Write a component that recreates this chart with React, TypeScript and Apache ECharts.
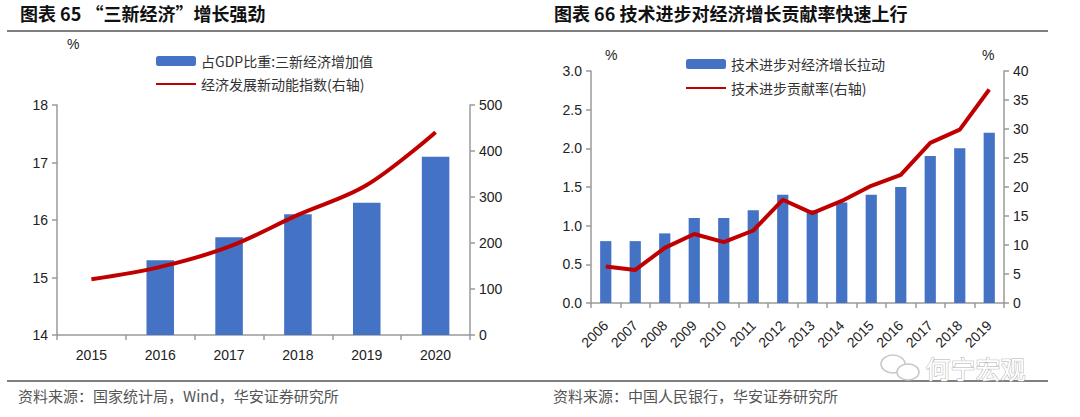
import React, { useEffect, useRef } from "react";
import * as echarts from "echarts";

const years1 = ["2015", "2016", "2017", "2018", "2019", "2020"];
const shareGDP = [null, 15.3, 15.7, 16.1, 16.3, 17.1];
const newEnergyIndex = [121, 148, 192, 261, 326, 441];

const years2 = ["2006", "2007", "2008", "2009", "2010", "2011", "2012", "2013", "2014", "2015", "2016", "2017", "2018", "2019"];
const techPull = [0.8, 0.8, 0.9, 1.1, 1.1, 1.2, 1.4, 1.2, 1.3, 1.4, 1.5, 1.9, 2.0, 2.2];
const techContribution = [6.3, 5.7, 9.5, 11.9, 10.5, 12.5, 17.8, 15.5, 17.6, 20.2, 22.1, 27.6, 29.9, 36.8];

const title1 = "图表 65 “三新经济”增长强劲";
const title2 = "图表 66 技术进步对经济增长贡献率快速上行";
const source1 = "资料来源：国家统计局，Wind，华安证券研究所";
const source2 = "资料来源：中国人民银行，华安证券研究所";
const legend1 = ["占GDP比重:三新经济增加值", "经济发展新动能指数(右轴)"];
const legend2 = ["技术进步对经济增长拉动", "技术进步贡献率(右轴)"];

const BLUE = "#4472C4";
const RED = "#C00000";
const AXIS = "#9a9a9a";
const NUM_FONT = "Liberation Sans, Arial, sans-serif";
const CJK_FONT = "Noto Sans CJK SC, sans-serif";

export default function App() {
  const ref = useRef<HTMLDivElement>(null);
  useEffect(() => {
    if (!ref.current) return;
    const chart = echarts.init(ref.current, undefined, { renderer: "svg" });
    const axisLine = { show: true, lineStyle: { color: AXIS, width: 1.5 } };
    const axisTick = { show: true, length: 5, lineStyle: { color: AXIS, width: 1.5 } };
    const numLabel = { color: "#222", fontSize: 14, fontFamily: NUM_FONT };
    const legendText = { fontSize: 14, color: "#333", fontFamily: CJK_FONT };
    chart.setOption({
      animation: false,
      backgroundColor: "#fff",
      grid: [
        { left: 57, top: 105, width: 413, height: 230 },
        { left: 591, top: 71, width: 413, height: 232 },
      ],
      legend: [
        {
          left: 150, top: 49, orient: "vertical", itemWidth: 40, itemHeight: 10, itemGap: 9,
          data: [{ name: legend1[0] }, { name: legend1[1], itemStyle: { opacity: 0 } }],
          textStyle: legendText,
        },
        {
          left: 680, top: 52, orient: "vertical", itemWidth: 40, itemHeight: 10, itemGap: 10,
          data: [{ name: legend2[0] }, { name: legend2[1], itemStyle: { opacity: 0 } }],
          textStyle: legendText,
        },
      ],
      xAxis: [
        {
          type: "category", gridIndex: 0, data: years1,
          axisLine, axisTick: { ...axisTick, alignWithLabel: false },
          axisLabel: { ...numLabel, margin: 13 },
        },
        {
          type: "category", gridIndex: 1, data: years2,
          axisLine, axisTick: { ...axisTick, alignWithLabel: false },
          axisLabel: { ...numLabel, fontSize: 14, rotate: 45, margin: 20, interval: 0 },
        },
      ],
      yAxis: [
        {
          type: "value", gridIndex: 0, min: 14, max: 18, interval: 1, startValue: 14,
          axisLine, axisTick, splitLine: { show: false },
          axisLabel: { ...numLabel, margin: 9 },
        },
        {
          type: "value", gridIndex: 0, position: "right", min: 0, max: 500, interval: 100,
          axisLine, axisTick, splitLine: { show: false },
          axisLabel: { ...numLabel, margin: 9 },
        },
        {
          type: "value", gridIndex: 1, min: 0, max: 3, interval: 0.5,
          axisLine, axisTick, splitLine: { show: false },
          axisLabel: { ...numLabel, margin: 9, formatter: (v: number) => v.toFixed(1) },
        },
        {
          type: "value", gridIndex: 1, position: "right", min: 0, max: 40, interval: 5,
          axisLine, axisTick, splitLine: { show: false },
          axisLabel: { ...numLabel, margin: 9 },
        },
      ],
      series: [
        {
          name: legend1[0], type: "bar", xAxisIndex: 0, yAxisIndex: 0, data: shareGDP,
          barWidth: "40%", itemStyle: { color: BLUE }, clip: true,
        },
        {
          name: legend1[1], type: "line", xAxisIndex: 0, yAxisIndex: 1, data: newEnergyIndex,
          smooth: 0.35, symbol: "none", lineStyle: { color: RED, width: 4 }, itemStyle: { color: RED },
        },
        {
          name: legend2[0], type: "bar", xAxisIndex: 1, yAxisIndex: 2, data: techPull,
          barWidth: "38%", itemStyle: { color: BLUE },
        },
        {
          name: legend2[1], type: "line", xAxisIndex: 1, yAxisIndex: 3, data: techContribution,
          symbol: "none", lineStyle: { color: RED, width: 4 }, itemStyle: { color: RED },
        },
      ],
      graphic: [
        { type: "text", left: 20, top: 4, style: { text: title1, fontSize: 18, fontWeight: "bold", fill: "#111", fontFamily: CJK_FONT } },
        { type: "text", left: 554, top: 4, style: { text: title2, fontSize: 18, fontWeight: "bold", fill: "#111", fontFamily: CJK_FONT } },
        { type: "line", shape: { x1: 7, y1: 31, x2: 1048, y2: 31 }, style: { stroke: "#7f7f7f", lineWidth: 2 } },
        { type: "line", shape: { x1: 7, y1: 381, x2: 1048, y2: 381 }, style: { stroke: "#7f7f7f", lineWidth: 2 } },
        { type: "text", left: 18, top: 388, style: { text: source1, fontSize: 15, fill: "#555", fontFamily: CJK_FONT } },
        { type: "text", left: 553, top: 388, style: { text: source2, fontSize: 15, fill: "#555", fontFamily: CJK_FONT } },
        { type: "text", left: 67, top: 37, style: { text: "%", fontSize: 14, fill: "#222", fontFamily: NUM_FONT } },
        { type: "text", left: 605, top: 48, style: { text: "%", fontSize: 14, fill: "#222", fontFamily: NUM_FONT } },
        { type: "text", left: 982, top: 48, style: { text: "%", fontSize: 14, fill: "#222", fontFamily: NUM_FONT } },
        { type: "ellipse", shape: { cx: 893, cy: 364, rx: 12, ry: 9 }, style: { fill: "none", stroke: "#c8c8c8", lineWidth: 1.5 } },
        { type: "ellipse", shape: { cx: 908, cy: 372, rx: 11, ry: 8 }, style: { fill: "#fff", stroke: "#c8c8c8", lineWidth: 1.5 } },
        { type: "text", left: 925, top: 355, style: { text: "何宁宏观", fontSize: 25, fill: "#fff", stroke: "#b0b0b0", lineWidth: 1, fontFamily: CJK_FONT } },
      ],
    });
    return () => chart.dispose();
  }, []);
  return <div ref={ref} style={{ position: "fixed", left: 0, top: 0, width: 1080, height: 417 }} />;
}
